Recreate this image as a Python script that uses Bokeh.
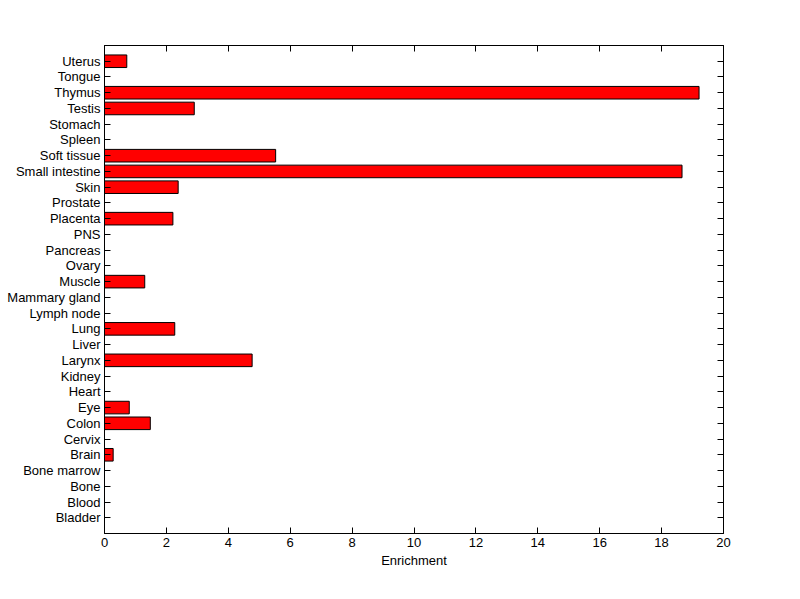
from bokeh.plotting import figure
from bokeh.models import LinearAxis, FixedTicker, Range1d
from bokeh.embed import file_html
from bokeh.resources import INLINE

categories = ["Bladder", "Blood", "Bone", "Bone marrow", "Brain", "Cervix", "Colon", "Eye",
              "Heart", "Kidney", "Larynx", "Liver", "Lung", "Lymph node", "Mammary gland",
              "Muscle", "Ovary", "Pancreas", "PNS", "Placenta", "Prostate", "Skin",
              "Small intestine", "Soft tissue", "Spleen", "Stomach", "Testis", "Thymus",
              "Tongue", "Uterus"]
values = [0, 0, 0, 0, 0.28, 0, 1.48, 0.80, 0, 0, 4.77, 0, 2.27, 0, 0, 1.30, 0, 0, 0, 2.21,
          0, 2.38, 18.66, 5.53, 0, 0, 2.90, 19.21, 0, 0.72]
x_ticks = [0, 2, 4, 6, 8, 10, 12, 14, 16, 18, 20]

positions = list(range(1, len(categories) + 1))
FONT = "Liberation Sans"
FS = "13px"

p = figure(width=784, height=583, output_backend="svg", toolbar_location=None,
           x_range=Range1d(0, 20), y_range=Range1d(0, len(categories) + 1),
           min_border_left=104, min_border_right=61, min_border_top=45, min_border_bottom=50,
           x_axis_label="Enrichment")
p.xgrid.visible = False
p.ygrid.visible = False
p.outline_line_color = "black"
p.background_fill_color = "white"
p.border_fill_color = "white"

p.hbar(y=positions, right=values, left=0, height=0.8, fill_color="#ff0000",
       line_color="black", line_width=1)

xt = FixedTicker(ticks=x_ticks)
yt = FixedTicker(ticks=positions)

ax = p.xaxis[0]
ax.ticker = xt
ay = p.yaxis[0]
ay.ticker = yt
ay.major_label_overrides = {pos: name for pos, name in zip(positions, categories)}

for a in (ax, ay):
    a.major_tick_in = 6
    a.major_tick_out = 0
    a.minor_tick_in = 0
    a.minor_tick_out = 0
    a.axis_line_color = "black"
    a.major_tick_line_color = "black"
    a.major_label_text_font = FONT
    a.major_label_text_font_size = FS
    a.major_label_text_color = "black"
    a.major_label_standoff = 4
    a.axis_label_text_font = FONT
    a.axis_label_text_font_size = FS
    a.axis_label_text_font_style = "normal"
    a.axis_label_text_color = "black"
ax.axis_label_standoff = 3

top = LinearAxis(ticker=FixedTicker(ticks=x_ticks), major_tick_in=6, major_tick_out=0,
                 minor_tick_in=0, minor_tick_out=0, major_label_text_color=None)
right = LinearAxis(ticker=FixedTicker(ticks=positions), major_tick_in=6, major_tick_out=0,
                   minor_tick_in=0, minor_tick_out=0, major_label_text_color=None)
p.add_layout(top, "above")
p.add_layout(right, "right")

open("out.html", "w").write(file_html(p, INLINE))
